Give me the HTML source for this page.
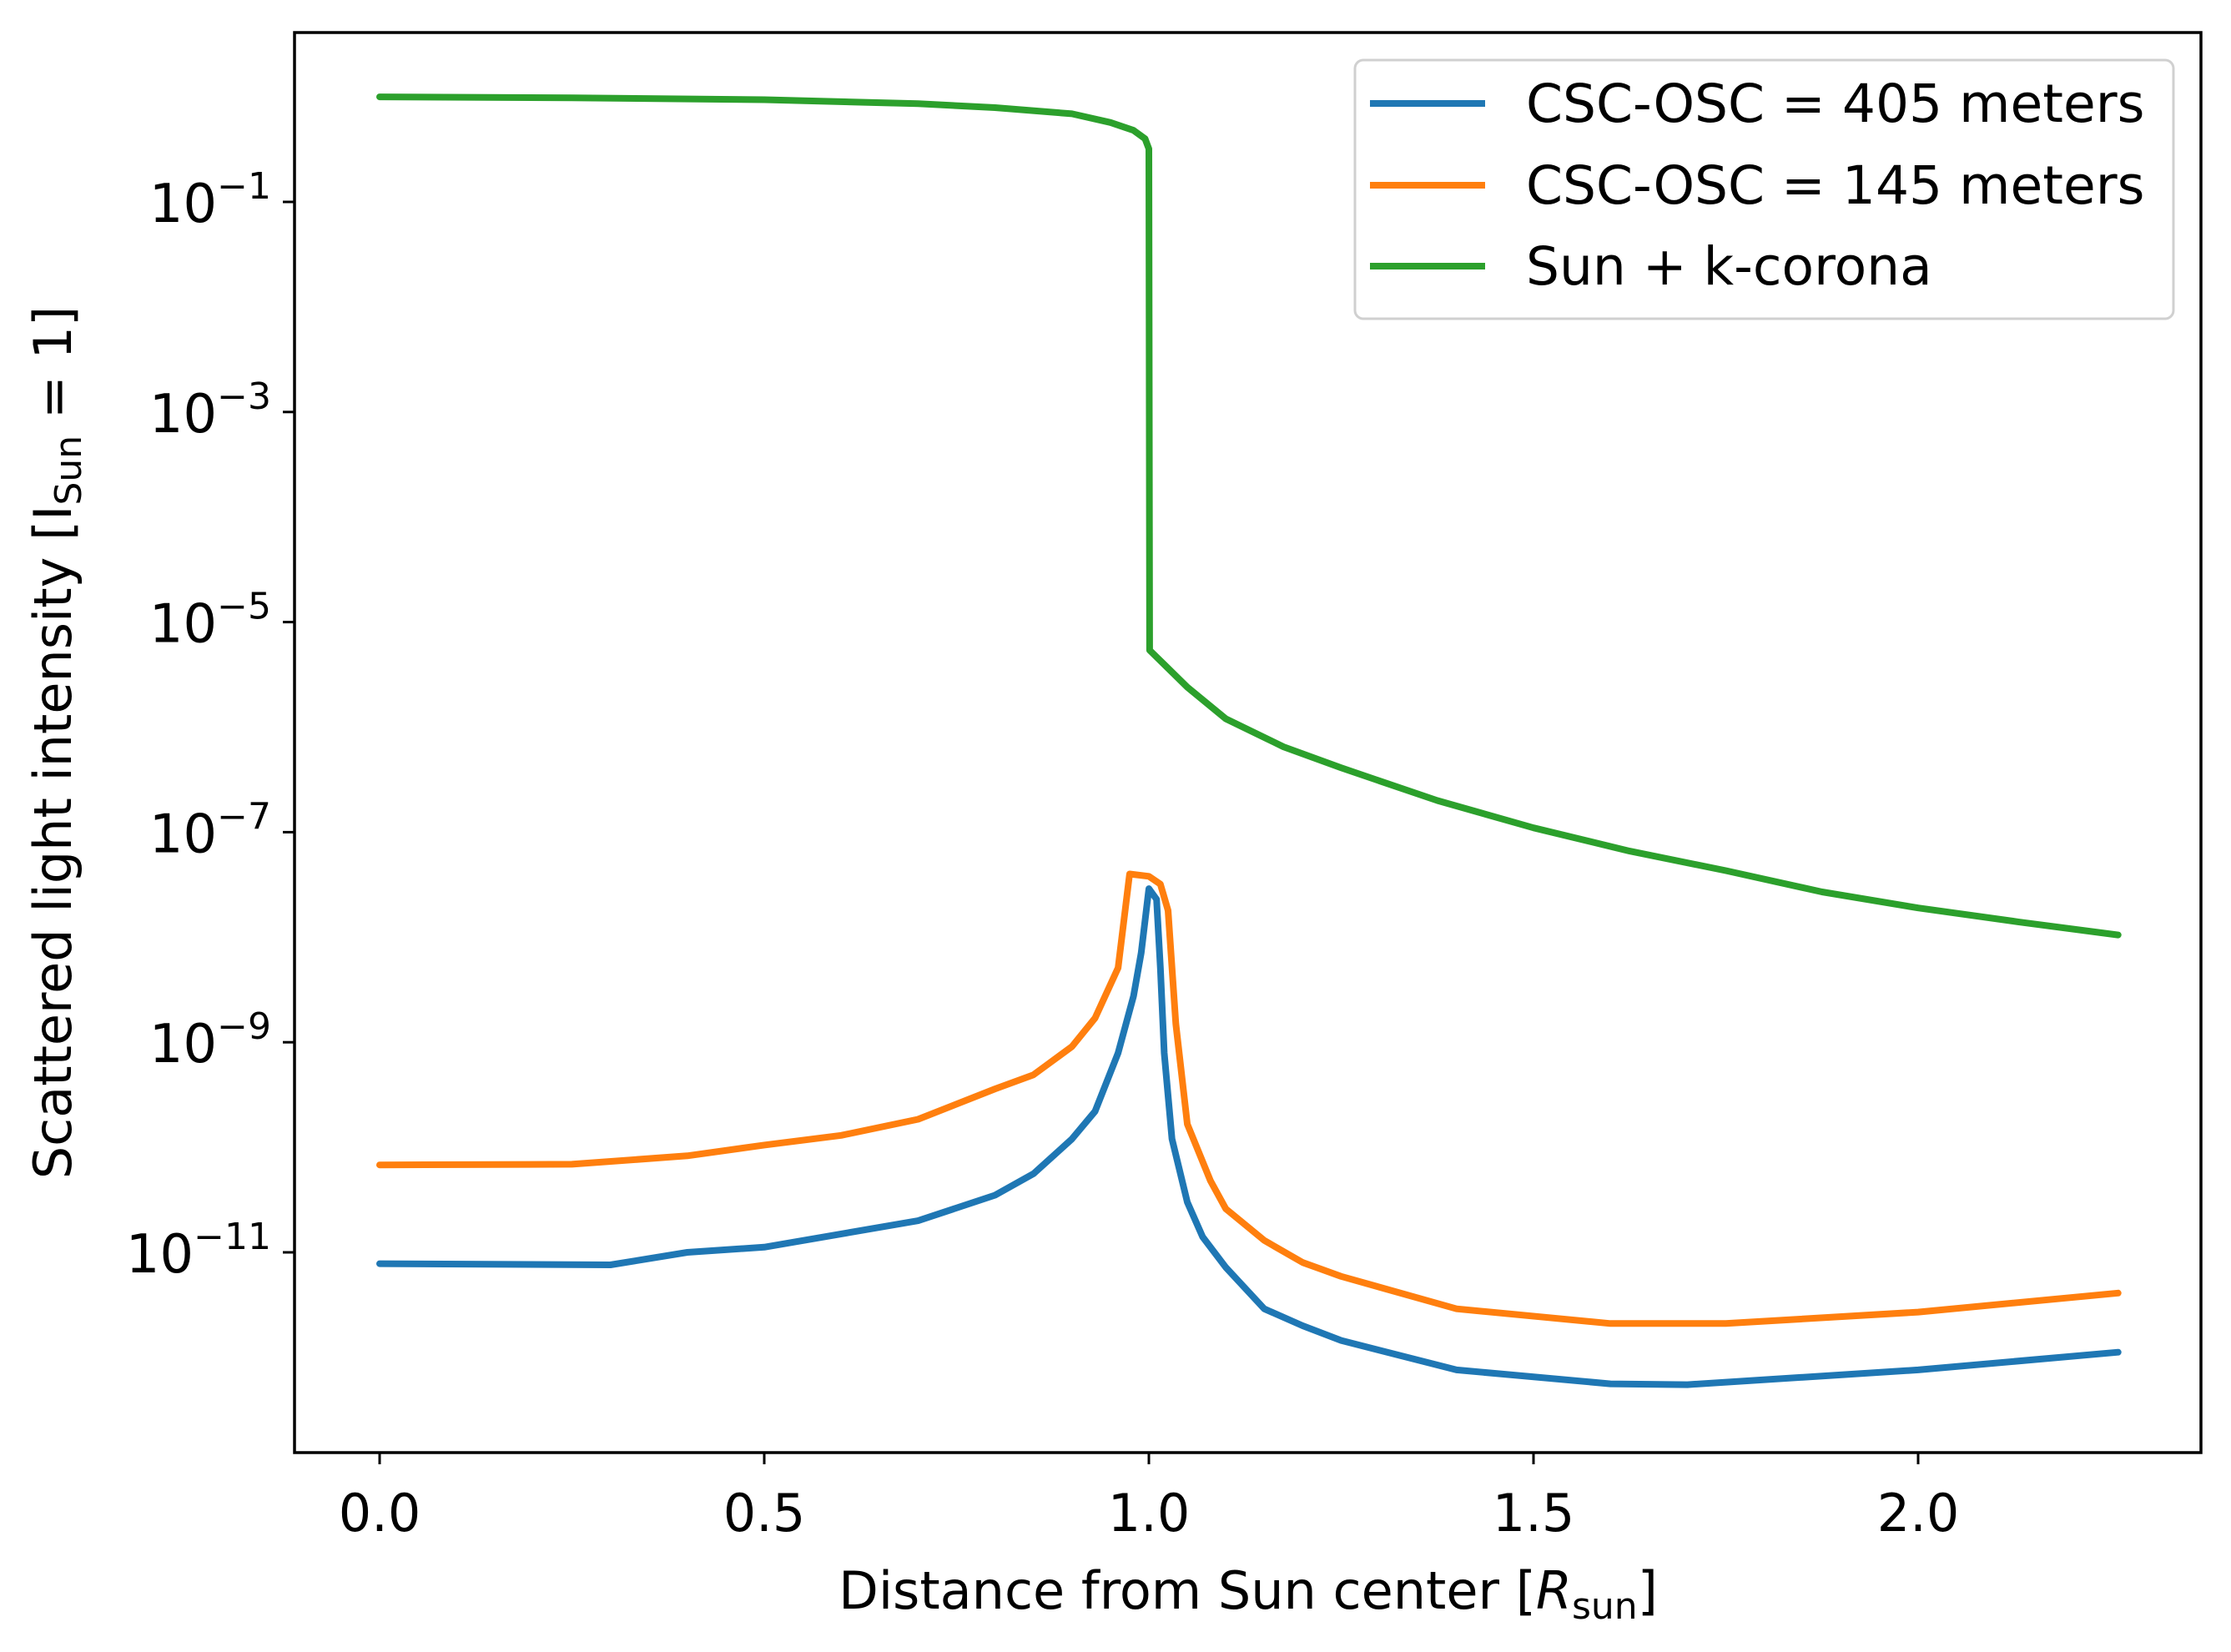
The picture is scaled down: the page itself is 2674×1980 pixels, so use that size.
<!DOCTYPE html>
<html><head><meta charset="utf-8"><style>
html,body{margin:0;padding:0;background:#fff;}
svg{display:block;font-family:"DejaVu Sans","Liberation Sans",sans-serif;}
</style></head><body>
<svg id="chart" width="2674" height="1980" viewBox="0 0 2674 1980" xmlns="http://www.w3.org/2000/svg">
<rect width="2674" height="1980" fill="#fff"/>
<g id="plot"></g>
<g id="axes"></g>
<text x="1496" y="1928" font-size="62" text-anchor="middle">Distance from Sun center [<tspan font-style="italic">R</tspan><tspan font-size="44" dy="12">sun</tspan><tspan dy="-12">]</tspan></text>
<text transform="translate(85,890) rotate(-90)" font-size="62" text-anchor="middle">Scattered light intensity [I<tspan font-size="44" dy="12">Sun</tspan><tspan dy="-12"> = 1]</tspan></text>
<g>
<rect x="1624" y="72" width="981" height="310" rx="10" fill="#fff" stroke="#d0d0d0" stroke-width="3"/>
<line x1="1642" y1="124" x2="1780" y2="124" stroke="#1f77b4" stroke-width="8"/>
<text x="1829" y="146" font-size="63">CSC-OSC = 405 meters</text>
<line x1="1642" y1="222" x2="1780" y2="222" stroke="#ff7f0e" stroke-width="8"/>
<text x="1829" y="244" font-size="63">CSC-OSC = 145 meters</text>
<line x1="1642" y1="319" x2="1780" y2="319" stroke="#2ca02c" stroke-width="8"/>
<text x="1829" y="341" font-size="63">Sun + k-corona</text>
</g>
</svg>
<script>
const xTicks = [0.0, 0.5, 1.0, 1.5, 2.0];
const xTickLabels = ["0.0", "0.5", "1.0", "1.5", "2.0"];
const yTickExps = [-1, -3, -5, -7, -9, -11];
const greenX = [0,0.25,0.5,0.7,0.8,0.9,0.95,0.98,0.995,1.0,1.001,1.05,1.1,1.175,1.25,1.375,1.5,1.625,1.75,1.875,2.0,2.13,2.26];
const greenY = [1.0,0.98,0.94,0.86,0.79,0.69,0.57,0.48,0.40,0.32,5.4e-6,2.4e-6,1.2e-6,6.5e-7,4.1e-7,2.0e-7,1.1e-7,6.6e-8,4.3e-8,2.7e-8,1.9e-8,1.4e-8,1.05e-8];
const orangeX = [0,0.25,0.4,0.5,0.6,0.7,0.8,0.85,0.9,0.93,0.96,0.975,1.0,1.015,1.025,1.035,1.05,1.08,1.1,1.15,1.2,1.25,1.4,1.6,1.75,2.0,2.26];
const orangeY = [6.8e-11,6.9e-11,8.3e-11,1.05e-10,1.3e-10,1.85e-10,3.6e-10,4.9e-10,9.1e-10,1.7e-9,5.1e-9,4.0e-8,3.8e-8,3.2e-8,1.8e-8,1.5e-9,1.66e-10,4.8e-11,2.6e-11,1.3e-11,8.0e-12,5.9e-12,2.9e-12,2.1e-12,2.1e-12,2.7e-12,4.1e-12];
const blueX = [0,0.3,0.4,0.5,0.7,0.8,0.85,0.9,0.93,0.96,0.98,0.99,1.0,1.01,1.015,1.02,1.03,1.05,1.07,1.1,1.15,1.2,1.25,1.4,1.6,1.7,2.0,2.26];
const blueY = [7.8e-12,7.6e-12,1.0e-11,1.12e-11,2.0e-11,3.5e-11,5.6e-11,1.2e-10,2.2e-10,7.9e-10,2.75e-9,7.1e-9,2.9e-8,2.3e-8,5.1e-9,7.9e-10,1.2e-10,3.0e-11,1.4e-11,7.2e-12,2.9e-12,2.0e-12,1.45e-12,7.6e-13,5.6e-13,5.5e-13,7.6e-13,1.12e-12];

const L=353, R=2638, T=39, B=1741;
const xs = v => 455 + v*922;
const ys = v => 242 + (-1 - Math.log10(v))*125.9;
const NS="http://www.w3.org/2000/svg";
const plot=document.getElementById('plot'), axes=document.getElementById('axes');
function mk(tag, attrs, parent){const e=document.createElementNS(NS,tag);for(const k in attrs)e.setAttribute(k,attrs[k]);parent.appendChild(e);return e;}
function series(xa, ya, color, name){
  const d = xa.map((x,i)=>(i?'L':'M')+xs(x).toFixed(1)+' '+ys(ya[i]).toFixed(1)).join(' ');
  const p = mk('path',{d:d,fill:'none',stroke:color,'stroke-width':8,'stroke-linejoin':'round','stroke-linecap':'round'},plot);
  
  
}
series(greenX, greenY, '#2ca02c', 'series-sun-k-corona');
series(orangeX, orangeY, '#ff7f0e', 'series-csc-osc-145m');
series(blueX, blueY, '#1f77b4', 'series-csc-osc-405m');

const frame = mk('rect',{x:L,y:T,width:R-L,height:B-T,fill:'none',stroke:'#000','stroke-width':3.5},axes);


xTicks.forEach((v,i)=>{
  const x=xs(v);
  const t = mk('line',{x1:x,y1:B,x2:x,y2:B+14,stroke:'#000','stroke-width':3},axes);
  
  
  const lb = mk('text',{x:x,y:B+94,'font-size':62,'text-anchor':'middle'},axes);
  lb.textContent = xTickLabels[i];
  
  
});
yTickExps.forEach(e=>{
  const y=ys(Math.pow(10,e));
  const t = mk('line',{x1:L-14,y1:y,x2:L,y2:y,stroke:'#000','stroke-width':3},axes);
  
  
  const lb = mk('text',{x:L-28,y:y+24,'font-size':64,'text-anchor':'end'},axes);
  const a = document.createElementNS(NS,'tspan'); a.textContent='10'; lb.appendChild(a);
  const b = document.createElementNS(NS,'tspan'); b.setAttribute('font-size','44'); b.setAttribute('dy','-28'); b.textContent='\u2212'+(-e); lb.appendChild(b);
  
  
});
</script>
</body></html>
